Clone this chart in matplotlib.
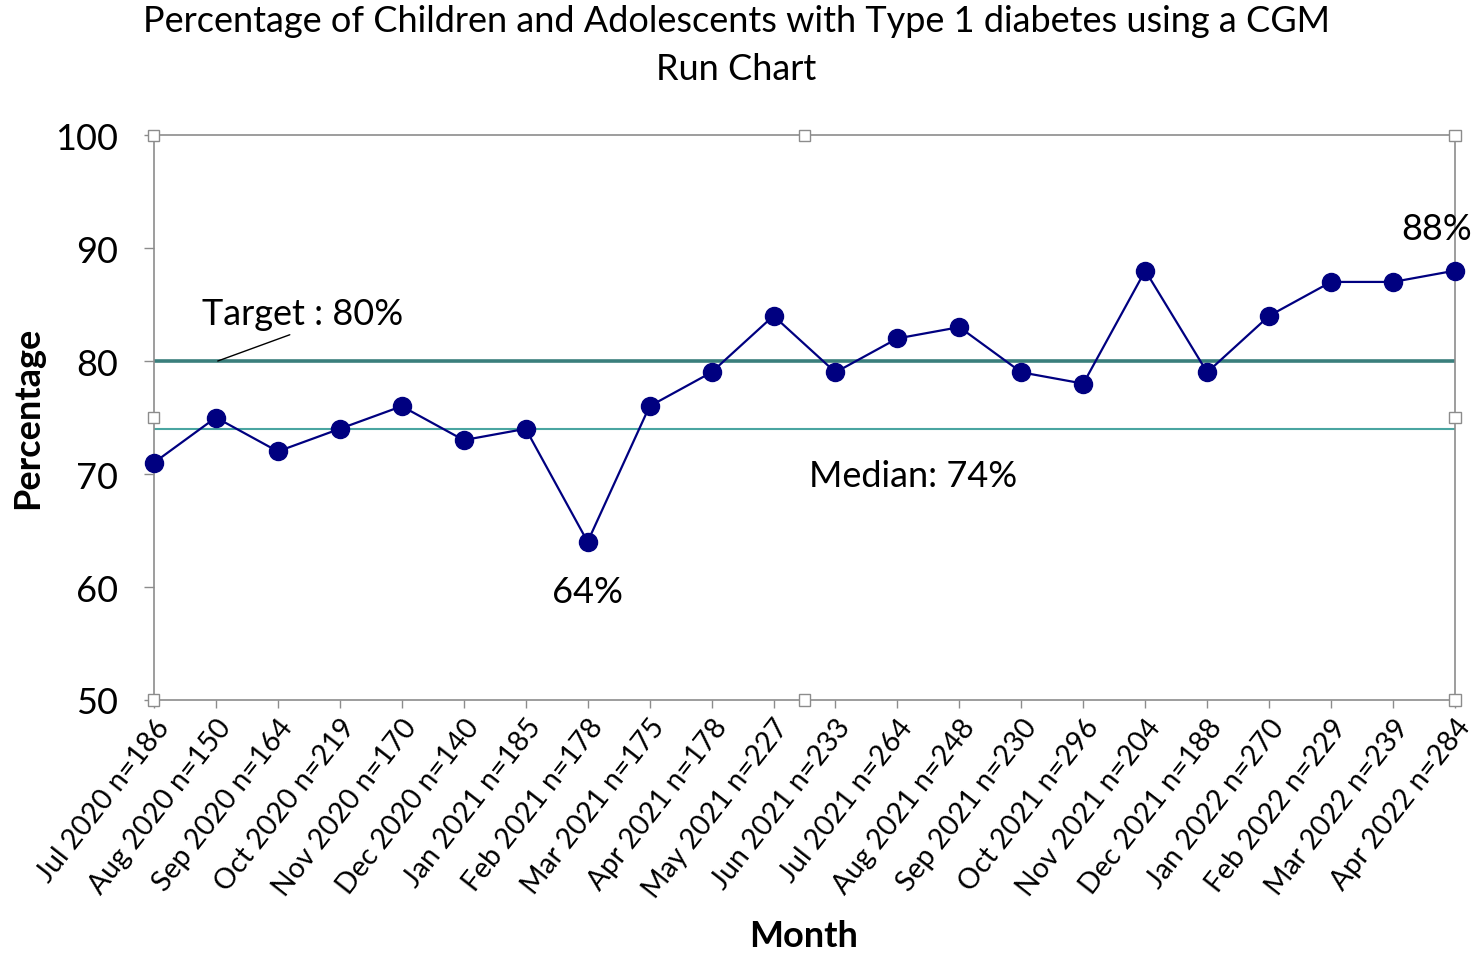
import matplotlib
matplotlib.use("Agg")
import matplotlib.pyplot as plt
from matplotlib.patches import Rectangle

plt.rcParams['font.family'] = ['Lato', 'DejaVu Sans']

months = ["Jul 2020 n=186", "Aug 2020 n=150", "Sep 2020 n=164", "Oct 2020 n=219",
          "Nov 2020 n=170", "Dec 2020 n=140", "Jan 2021 n=185", "Feb 2021 n=178",
          "Mar 2021 n=175", "Apr 2021 n=178", "May 2021 n=227", "Jun 2021 n=233",
          "Jul 2021 n=264", "Aug 2021 n=248", "Sep 2021 n=230", "Oct 2021 n=296",
          "Nov 2021 n=204", "Dec 2021 n=188", "Jan 2022 n=270", "Feb 2022 n=229",
          "Mar 2022 n=239", "Apr 2022 n=284"]
percent = [71, 75, 72, 74, 76, 73, 74, 64, 76, 79, 84, 79, 82, 83, 79, 78,
           88, 79, 84, 87, 87, 88]
target = 80
median = 74
y_ticks = [50, 60, 70, 80, 90, 100]

grey = "#8C8C8C"
navy = "#000080"

fig = plt.figure(figsize=(14.73, 9.54), dpi=100)
ax = fig.add_axes([0.1045, 0.2652, 0.8833, 0.5922])

x = list(range(len(percent)))

ax.axhline(target, color="#3A7F7C", lw=2.6, zorder=2)
ax.axhline(median, color="#4AA5A1", lw=1.5, zorder=2)
ax.plot(x, percent, color=navy, lw=1.6, marker="o", markersize=13,
        markerfacecolor=navy, markeredgecolor=navy, zorder=4, clip_on=False)

ax.set_xlim(0, len(percent) - 1)
ax.set_ylim(50, 100)
ax.set_yticks(y_ticks)
ax.set_xticks(x)
ax.set_xticklabels(months, rotation=52, ha="right", va="top",
                   rotation_mode="anchor", fontsize=20.5)
ax.tick_params(axis="y", labelsize=26, direction="out", length=7,
               color=grey, width=1, pad=19)
ax.tick_params(axis="x", direction="out", length=6, color=grey, width=1, pad=4)

for s in ax.spines.values():
    s.set_color(grey)
    s.set_linewidth(1.2)

# axis titles
fig.text(28 / 1473, 1 - 418 / 954, "Percentage", rotation=90, ha="center", va="center",
         fontsize=26, fontweight="bold")
fig.text(804 / 1473, 1 - 937 / 954, "Month", ha="center", va="center",
         fontsize=26, fontweight="bold")

fig.text(0.5, 1 - 22 / 954, "Percentage of Children and Adolescents with Type 1 diabetes using a CGM",
         ha="center", va="center", fontsize=26)
fig.text(0.5, 1 - 70 / 954, "Run Chart", ha="center", va="center", fontsize=26)

# annotations
ax.annotate("Target : 80%", xy=(1.03, target), xytext=(2.4, 84.2),
            ha="center", va="center", fontsize=26,
            arrowprops=dict(arrowstyle="-", color="black", lw=1,
                            shrinkA=4, shrinkB=0, relpos=(0.5, 0)))
ax.text(12.25, 69.9, "Median: 74%", ha="center", va="center", fontsize=26)
ax.text(7, 59.6, "64%", ha="center", va="center", fontsize=26)
ax.text(20.7, 91.7, "88%", ha="center", va="center", fontsize=26)

# frame handles at corners and mid-edges
for hx, hy in [(0, 0), (0.5, 0), (1, 0), (0, 0.5), (1, 0.5), (0, 1), (0.5, 1), (1, 1)]:
    w = 0.0085
    h = w * (0.8833 * 14.73) / (0.5922 * 9.54)
    ax.add_patch(Rectangle((hx - w / 2, hy - h / 2), w, h, transform=ax.transAxes,
                           facecolor="white", edgecolor=grey, lw=1,
                           clip_on=False, zorder=5))

fig.savefig("out.png", dpi=100)
